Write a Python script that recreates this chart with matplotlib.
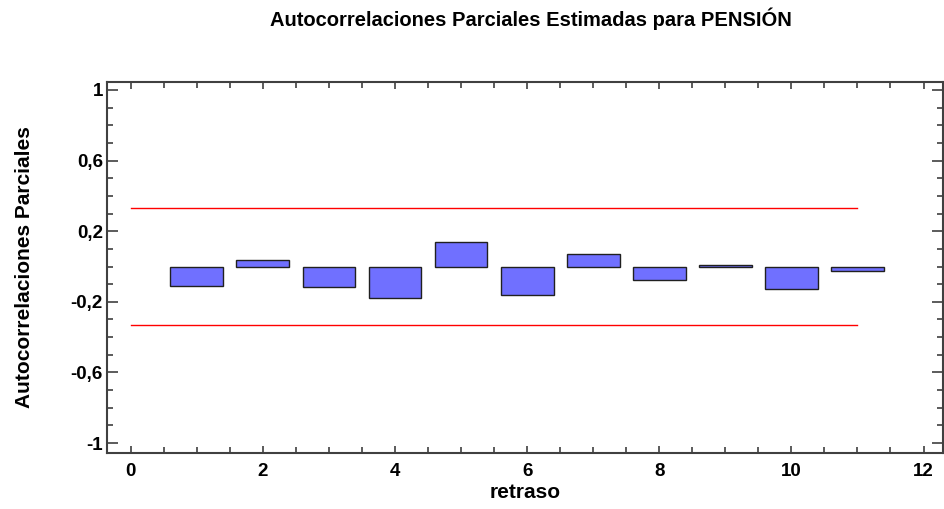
import matplotlib
matplotlib.use("Agg")
import matplotlib.pyplot as plt
from matplotlib.ticker import MultipleLocator, FuncFormatter

# partial autocorrelations
lags = [1, 2, 3, 4, 5, 6, 7, 8, 9, 10, 11]
pacf = [-0.110, 0.037, -0.116, -0.178, 0.139, -0.161, 0.071, -0.076, 0.010, -0.127, -0.025]
limit_upper = 0.334
limit_lower = -0.334
limit_x = [0, 11]

plt.rcParams["font.family"] = ["Liberation Sans", "DejaVu Sans"]
plt.rcParams["font.weight"] = "bold"

fig = plt.figure(figsize=(9.44, 5.09), dpi=100)
ax = fig.add_axes([0.1133, 0.110, 0.886, 0.729])

ax.bar(lags, pacf, width=0.8, color="#7070ff", edgecolor="#202020", linewidth=1.0)
ax.plot(limit_x, [limit_upper, limit_upper], color="red", linewidth=1.0)
ax.plot(limit_x, [limit_lower, limit_lower], color="red", linewidth=1.0)

ax.set_xlim(-0.36, 12.3)
ax.set_ylim(-1.056, 1.045)

ax.xaxis.set_major_locator(MultipleLocator(2))
ax.xaxis.set_minor_locator(MultipleLocator(0.5))
ax.yaxis.set_minor_locator(MultipleLocator(0.1))
ax.set_yticks([-1, -0.6, -0.2, 0.2, 0.6, 1])


def comma(v, pos):
    s = "%g" % round(v, 2)
    return s.replace(".", ",")


ax.yaxis.set_major_formatter(FuncFormatter(comma))
ax.tick_params(which="both", direction="in", top=True, right=True, color="#404040")
ax.tick_params(which="major", length=8, width=1.2, labelsize=13.5)
ax.tick_params(which="minor", length=4, width=1.2)
ax.tick_params(axis="x", which="major", length=5, pad=7)
ax.tick_params(axis="y", which="major", pad=3)
for sp in ax.spines.values():
    sp.set_color("#404040")
    sp.set_linewidth(1.5)

ax.set_xlabel("retraso", fontsize=15, fontweight="bold", labelpad=2)
ax.set_ylabel("Autocorrelaciones Parciales", fontsize=15, fontweight="bold", labelpad=26)
fig.suptitle("Autocorrelaciones Parciales Estimadas para PENSIÓN", x=0.562, y=0.985,
             fontsize=14.5, fontweight="bold")

fig.savefig("out.png", dpi=100)
